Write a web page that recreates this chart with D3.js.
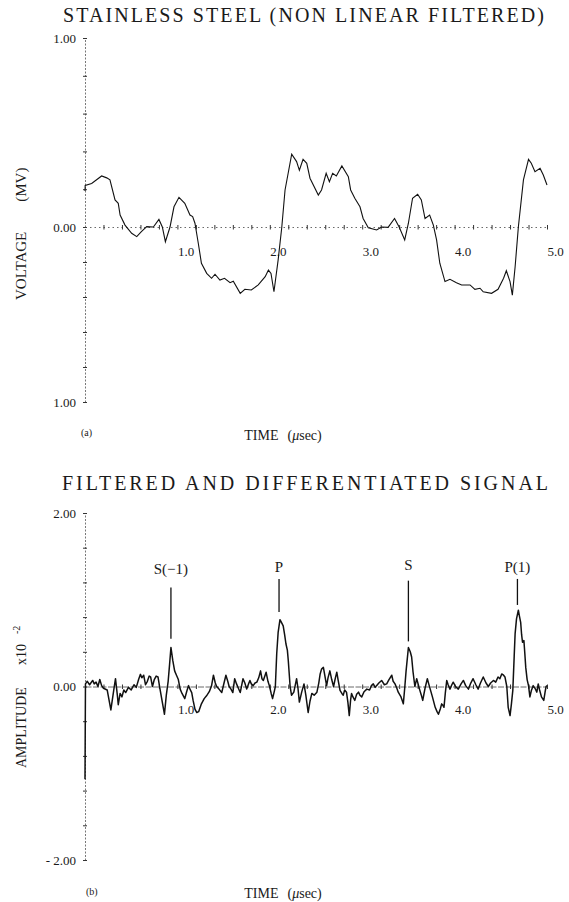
<!DOCTYPE html>
<html>
<head>
<meta charset="utf-8">
<script src="https://cdn.jsdelivr.net/npm/d3@7"></script>
<style>
  body { margin: 0; background: #fff; }
  svg text { font-family: "Liberation Serif", "DejaVu Serif", serif; fill: #1a1a1a; }
</style>
</head>
<body>
<svg id="chart" width="569" height="902"></svg>
<script>
// ---- data ----
// (a) voltage, non linear filtered
const topT = [0, 0.002, 0.072, 0.18, 0.235, 0.27, 0.325, 0.36, 0.38, 0.433, 0.505, 0.56, 0.61, 0.668, 0.74, 0.80, 0.837, 0.87, 0.92, 0.963, 1.017, 1.08, 1.136, 1.165, 1.19, 1.226, 1.26, 1.317, 1.37, 1.407, 1.46, 1.51, 1.57, 1.605, 1.68, 1.73, 1.80, 1.875, 1.95, 1.985, 2.013, 2.045, 2.09, 2.13, 2.165, 2.237, 2.29, 2.32, 2.36, 2.40, 2.435, 2.525, 2.56, 2.61, 2.645, 2.68, 2.72, 2.78, 2.85, 2.875, 2.92, 2.976, 3.01, 3.066, 3.156, 3.21, 3.28, 3.35, 3.40, 3.46, 3.50, 3.545, 3.60, 3.64, 3.68, 3.73, 3.77, 3.805, 3.84, 3.896, 3.95, 4.02, 4.076, 4.167, 4.22, 4.275, 4.31, 4.40, 4.47, 4.53, 4.56, 4.60, 4.625, 4.655, 4.69, 4.745, 4.80, 4.83, 4.87, 4.925, 4.96, 5.0];
const topV = [0.19, 0.22, 0.23, 0.27, 0.26, 0.25, 0.143, 0.125, 0.063, 0.01, -0.036, -0.055, -0.027, 0.002, 0.0, 0.04, 0.0, -0.084, 0.0, 0.107, 0.157, 0.125, 0.063, 0.055, 0.02, -0.093, -0.207, -0.265, -0.293, -0.27, -0.303, -0.293, -0.318, -0.31, -0.379, -0.356, -0.36, -0.331, -0.284, -0.246, -0.265, -0.37, -0.189, 0.0, 0.196, 0.385, 0.346, 0.30, 0.358, 0.337, 0.258, 0.169, 0.196, 0.284, 0.24, 0.284, 0.27, 0.323, 0.266, 0.196, 0.152, 0.107, 0.045, -0.004, -0.017, 0.0, -0.002, 0.045, 0.0, -0.074, 0.02, 0.152, 0.173, 0.143, 0.045, 0.063, 0.01, -0.074, -0.207, -0.312, -0.299, -0.318, -0.331, -0.331, -0.356, -0.35, -0.37, -0.379, -0.356, -0.293, -0.25, -0.312, -0.389, -0.227, 0.0, 0.249, 0.358, 0.337, 0.293, 0.31, 0.275, 0.222];

// (b) filtered and differentiated amplitude (x10^-2)
const botT = [0, 0.005, 0.025, 0.05, 0.083, 0.10, 0.12, 0.14, 0.16, 0.18, 0.20, 0.24, 0.28, 0.31, 0.33, 0.35, 0.36, 0.38, 0.40, 0.42, 0.44, 0.47, 0.50, 0.53, 0.555, 0.58, 0.60, 0.615, 0.635, 0.655, 0.675, 0.695, 0.71, 0.73, 0.75, 0.77, 0.79, 0.81, 0.84, 0.86, 0.88, 0.90, 0.915, 0.93, 0.95, 0.97, 0.99, 1.01, 1.03, 1.05, 1.08, 1.10, 1.12, 1.14, 1.155, 1.17, 1.19, 1.21, 1.23, 1.26, 1.29, 1.32, 1.345, 1.37, 1.39, 1.41, 1.425, 1.45, 1.48, 1.50, 1.525, 1.545, 1.56, 1.58, 1.60, 1.62, 1.64, 1.66, 1.68, 1.71, 1.73, 1.75, 1.77, 1.785, 1.80, 1.82, 1.84, 1.86, 1.88, 1.90, 1.915, 1.93, 1.96, 1.98, 1.995, 2.015, 2.03, 2.05, 2.06, 2.075, 2.09, 2.11, 2.13, 2.145, 2.16, 2.175, 2.19, 2.20, 2.22, 2.235, 2.26, 2.29, 2.305, 2.32, 2.345, 2.37, 2.39, 2.415, 2.435, 2.455, 2.48, 2.51, 2.53, 2.545, 2.56, 2.58, 2.60, 2.615, 2.63, 2.65, 2.67, 2.69, 2.71, 2.725, 2.74, 2.76, 2.78, 2.795, 2.81, 2.83, 2.845, 2.86, 2.875, 2.885, 2.90, 2.92, 2.94, 2.96, 2.975, 2.995, 3.02, 3.05, 3.08, 3.10, 3.12, 3.14, 3.155, 3.18, 3.21, 3.24, 3.265, 3.29, 3.32, 3.335, 3.355, 3.375, 3.39, 3.42, 3.445, 3.46, 3.475, 3.50, 3.52, 3.535, 3.55, 3.57, 3.59, 3.62, 3.64, 3.655, 3.68, 3.705, 3.72, 3.74, 3.76, 3.79, 3.81, 3.825, 3.845, 3.86, 3.875, 3.885, 3.90, 3.915, 3.93, 3.95, 3.97, 3.985, 4.01, 4.04, 4.07, 4.095, 4.12, 4.15, 4.175, 4.20, 4.23, 4.255, 4.28, 4.31, 4.34, 4.365, 4.39, 4.42, 4.445, 4.47, 4.49, 4.51, 4.53, 4.545, 4.565, 4.58, 4.60, 4.615, 4.63, 4.645, 4.655, 4.67, 4.69, 4.70, 4.715, 4.725, 4.735, 4.75, 4.76, 4.77, 4.785, 4.80, 4.815, 4.83, 4.85, 4.87, 4.89, 4.905, 4.92, 4.94, 4.965, 4.98, 4.99, 5.0];
const botA = [-1.07, 0.03, 0.06, 0.02, 0.07, 0.03, 0.05, 0.00, 0.08, 0.01, -0.02, -0.04, -0.27, -0.05, 0.09, -0.10, -0.21, -0.08, -0.12, -0.04, -0.07, -0.01, -0.04, 0.02, -0.01, 0.08, 0.14, 0.10, 0.13, 0.02, 0.06, 0.12, 0.11, 0.00, 0.08, 0.12, 0.11, -0.02, -0.20, -0.32, -0.10, 0.06, 0.25, 0.45, 0.30, 0.18, 0.13, 0.08, -0.03, -0.08, -0.14, -0.06, 0.01, -0.04, -0.07, -0.16, -0.26, -0.30, -0.29, -0.20, -0.14, -0.10, -0.06, 0.01, 0.13, 0.04, 0.00, -0.03, -0.07, 0.02, 0.13, 0.06, 0.00, -0.03, -0.07, 0.09, 0.03, -0.02, -0.07, 0.09, 0.04, -0.03, 0.03, 0.07, 0.03, 0.01, 0.04, 0.05, 0.10, 0.18, 0.09, 0.07, 0.165, 0.06, 0.01, -0.08, -0.14, -0.05, 0.00, 0.38, 0.62, 0.77, 0.73, 0.70, 0.60, 0.49, 0.42, 0.30, 0.00, -0.10, -0.065, 0.09, -0.02, -0.18, -0.065, 0.03, -0.10, -0.30, -0.17, -0.08, -0.10, -0.065, 0.04, 0.145, 0.20, 0.22, 0.10, 0.01, 0.10, 0.18, 0.08, 0.00, 0.10, 0.165, 0.07, -0.045, -0.08, -0.10, -0.04, -0.065, -0.18, -0.335, -0.15, -0.08, -0.12, -0.16, -0.09, -0.065, -0.10, -0.12, -0.06, -0.03, -0.04, 0.01, 0.03, -0.01, 0.01, 0.04, 0.07, 0.02, 0.03, 0.08, 0.13, 0.06, 0.03, -0.02, -0.065, -0.12, -0.20, -0.02, 0.18, 0.45, 0.40, 0.34, 0.17, 0.00, 0.09, -0.03, -0.10, -0.16, -0.02, 0.09, 0.03, -0.045, -0.12, -0.24, -0.29, -0.32, -0.26, -0.20, -0.22, -0.24, -0.07, 0.07, 0.02, -0.03, 0.02, 0.05, 0.00, -0.03, 0.03, 0.07, 0.01, -0.03, 0.04, 0.09, 0.02, -0.03, 0.04, 0.11, 0.04, 0.00, 0.04, 0.07, 0.05, 0.11, 0.09, 0.145, 0.13, 0.11, 0.00, -0.24, -0.335, -0.20, -0.045, 0.35, 0.61, 0.78, 0.88, 0.82, 0.74, 0.60, 0.51, 0.53, 0.38, 0.22, 0.08, 0.01, -0.12, -0.05, 0.01, -0.02, -0.065, 0.03, -0.04, -0.12, -0.16, -0.06, 0.00, 0.01];

// wave arrival markers on (b)
const markerLabels = ["S(\u22121)", "P", "S", "P(1)"];
const markerT = [0.93, 2.10, 3.50, 4.68];
const markerTop = [1.14, 1.24, 1.22, 1.24];
const markerBottom = [0.55, 0.86, 0.52, 0.94];
const markerLabelA = [1.30, 1.32, 1.34, 1.32];

// axis tick labels
const xTickValues = [1, 2, 3, 4, 5];
const xTickLabels = ["1.0", "2.0", "3.0", "4.0", "5.0"];
const topYTickValues = [1, 0, -1];
const topYTickLabels = ["1.00", "0.00", "1.00"];
const botYTickValues = [2, 0, -2];
const botYTickLabels = ["2.00", "0.00", "- 2.00"];

const svg = d3.select("#chart");

// scales
const xTop = d3.scaleLinear().domain([0, 5]).range([85, 547]);
const yTop = d3.scaleLinear().domain([-1, 0, 1]).range([402, 227, 38]);
const xBot = d3.scaleLinear().domain([0, 5]).range([85, 547]);
const yBot = d3.scaleLinear().domain([-2, 2]).range([860, 513]);

// ---- titles ----
svg.append("text").attr("x", 63).attr("y", 22)
  .attr("textLength", 481).attr("lengthAdjust", "spacing")
  .style("font-size", "20px")
  .text("STAINLESS STEEL (NON LINEAR FILTERED)");

svg.append("text").attr("x", 62).attr("y", 490)
  .attr("textLength", 486).attr("lengthAdjust", "spacing")
  .style("font-size", "20px")
  .text("FILTERED AND DIFFERENTIATED SIGNAL");

// helper to draw one panel's axes
function drawAxes(x, y, yMinor, yTickValues, yTickLabels, labelGap, zeroDash) {
  // vertical axis, minor ticks
  const ya = svg.append("g").attr("transform", "translate(" + x(0) + ",0)")
    .call(d3.axisLeft(y).tickValues(yMinor).tickFormat("").tickSizeOuter(0));
  ya.select(".domain").attr("stroke", "#555").attr("stroke-width", 0.8).attr("stroke-dasharray", "2,1.5");
  ya.selectAll(".tick line").attr("x1", -2).attr("x2", 2).attr("stroke", "#333");

  // vertical axis labels
  const yl = svg.append("g").attr("transform", "translate(" + x(0) + ",0)")
    .call(d3.axisLeft(y).tickValues(yTickValues).tickSize(0).tickPadding(9)
      .tickFormat((d, i) => yTickLabels[i]));
  yl.select(".domain").remove();
  yl.selectAll("text").style("font-size", "13px").style("font-family", "Liberation Serif, serif").attr("fill", "#1a1a1a");

  // zero line with + marks
  const xa = svg.append("g").attr("transform", "translate(0," + y(0) + ")")
    .call(d3.axisBottom(x).tickValues(d3.range(0.2, 5.01, 0.2)).tickFormat("").tickSizeOuter(0));
  xa.select(".domain").attr("stroke", "#444").attr("stroke-width", 0.8).attr("stroke-dasharray", zeroDash);
  xa.selectAll(".tick line").attr("y1", -2).attr("y2", 2.5).attr("stroke", "#333");

  // x tick labels, left edge on tick
  const xl = svg.append("g").attr("transform", "translate(0," + y(0) + ")")
    .call(d3.axisBottom(x).tickValues(xTickValues).tickSize(0).tickPadding(labelGap)
      .tickFormat((d, i) => xTickLabels[i]));
  xl.select(".domain").remove();
  xl.selectAll("text").attr("text-anchor", "start").style("font-size", "13px")
    .style("font-family", "Liberation Serif, serif").attr("fill", "#1a1a1a");
}

drawAxes(xTop, yTop, d3.range(-1, 1.001, 0.2), topYTickValues, topYTickLabels, 20, "1.5,3");
drawAxes(xBot, yBot, d3.range(-2, 2.001, 0.4), botYTickValues, botYTickLabels, 18, "6,1.5");

// ---- traces ----
const lineTop = d3.line().x((d, i) => xTop(topT[i])).y(d => yTop(d));
svg.append("path").datum(topV).attr("d", lineTop)
  .attr("fill", "none").attr("stroke", "#111").attr("stroke-width", 1.1);

const lineBot = d3.line().x((d, i) => xBot(botT[i])).y(d => yBot(d));
svg.append("path").datum(botA).attr("d", lineBot)
  .attr("fill", "none").attr("stroke", "#111").attr("stroke-width", 1.5)
  .attr("stroke-linejoin", "round");

// markers
const mk = svg.append("g");
markerT.forEach((t, i) => {
  mk.append("line")
    .attr("x1", xBot(t)).attr("x2", xBot(t))
    .attr("y1", yBot(markerTop[i])).attr("y2", yBot(markerBottom[i]))
    .attr("stroke", "#111").attr("stroke-width", 1.3);
  mk.append("text")
    .attr("x", xBot(t)).attr("y", yBot(markerLabelA[i]))
    .attr("text-anchor", "middle").style("font-size", "15px")
    .text(markerLabels[i]);
});

// ---- axis titles ----
const volt = svg.append("text")
  .attr("transform", "translate(26,300) rotate(-90)")
  .style("font-size", "15px");
volt.append("tspan").text("VOLTAGE");
volt.append("tspan").attr("dx", 30).text("(MV)");

const amp = svg.append("text")
  .attr("transform", "translate(26,768) rotate(-90)")
  .style("font-size", "14px");
amp.append("tspan").text("AMPLITUDE");
amp.append("tspan").attr("dx", 22).text("x10");
amp.append("tspan").attr("dx", 10).attr("dy", -6).style("font-size", "10px").text("-2");

function timeLabel(yPos) {
  const t = svg.append("text").attr("x", 283).attr("y", yPos)
    .attr("text-anchor", "middle").style("font-size", "14px");
  t.append("tspan").text("TIME");
  t.append("tspan").attr("dx", 9).text("(");
  t.append("tspan").style("font-style", "italic").text("\u03bc");
  t.append("tspan").text("sec)");
}
timeLabel(440);
timeLabel(898);

svg.append("text").attr("x", 81).attr("y", 436).style("font-size", "10px").text("(a)");
svg.append("text").attr("x", 86).attr("y", 895).style("font-size", "10px").text("(b)");
</script>
</body>
</html>
